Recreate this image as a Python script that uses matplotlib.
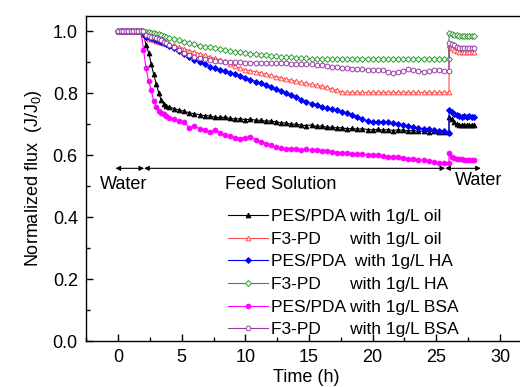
import numpy as np
import matplotlib
matplotlib.use("Agg")
import matplotlib.pyplot as plt

plt.rcParams['font.family'] = ['Liberation Sans', 'DejaVu Sans']
plt.rcParams['mathtext.fontset'] = 'custom'
plt.rcParams['mathtext.rm'] = 'Liberation Sans'
plt.rcParams['mathtext.it'] = 'Liberation Sans'

# ---- time grids (h) ----
t_water = [0.0, 0.2, 0.4, 0.6, 0.8, 1.0, 1.2, 1.4, 1.6, 1.8]
t_feed = [2.0, 2.2, 2.4, 2.6, 2.8, 3.0, 3.2, 3.4, 3.6, 3.8, 4.0,
          4.4, 4.8, 5.2, 5.6, 6.0, 6.4, 6.8, 7.2, 7.6, 8.0, 8.4, 8.8, 9.2, 9.6,
          10.0, 10.4, 10.8, 11.2, 11.6, 12.0, 12.4, 12.8, 13.2, 13.6, 14.0, 14.4,
          14.8, 15.2, 15.6, 16.0, 16.4, 16.8, 17.2, 17.6, 18.0, 18.4, 18.8, 19.2,
          19.6, 20.0, 20.4, 20.8, 21.2, 21.6, 22.0, 22.4, 22.8, 23.2, 23.6, 24.0,
          24.4, 24.8, 25.2, 25.6, 26.0]
t_rinse = [26.0, 26.2, 26.4, 26.6, 26.8, 27.0, 27.2, 27.4, 27.6, 27.8, 28.0]

water_vals = [1.0] * 10

# ---- feed phase values ----
pes_oil = [0.99, 0.955, 0.93, 0.895, 0.86, 0.83, 0.80, 0.776, 0.765, 0.758, 0.755,
           0.750, 0.745, 0.741, 0.736, 0.733, 0.730, 0.727, 0.726, 0.722, 0.721,
           0.722, 0.718, 0.716, 0.717, 0.714, 0.716, 0.712, 0.712, 0.709, 0.710,
           0.707, 0.704, 0.703, 0.699, 0.700, 0.696, 0.695, 0.697, 0.692, 0.694,
           0.689, 0.690, 0.687, 0.688, 0.684, 0.686, 0.683, 0.685, 0.682, 0.681,
           0.683, 0.680, 0.682, 0.679, 0.681, 0.680, 0.678, 0.679, 0.676, 0.677,
           0.675, 0.676, 0.674, 0.675, 0.674]
f3_oil = [0.995, 0.977, 0.975, 0.973, 0.971, 0.969, 0.966, 0.964, 0.962, 0.960, 0.958,
          0.954, 0.949, 0.943, 0.937, 0.932, 0.927, 0.922, 0.917, 0.912, 0.907,
          0.902, 0.895, 0.887, 0.880, 0.875, 0.872, 0.869, 0.865, 0.861, 0.857,
          0.853, 0.849, 0.845, 0.841, 0.838, 0.834, 0.831, 0.828, 0.825, 0.822,
          0.818, 0.813, 0.809, 0.803, 0.802, 0.802, 0.802, 0.802, 0.802, 0.802,
          0.802, 0.802, 0.802, 0.802, 0.802, 0.802, 0.802, 0.802, 0.802, 0.802,
          0.802, 0.802, 0.802, 0.802, 0.802]
pes_ha = [0.995, 0.982, 0.980, 0.977, 0.974, 0.971, 0.968, 0.964, 0.961, 0.957, 0.953,
          0.945, 0.936, 0.927, 0.916, 0.908, 0.900, 0.893, 0.885, 0.880, 0.875,
          0.870, 0.865, 0.860, 0.855, 0.849, 0.843, 0.837, 0.831, 0.825, 0.818,
          0.812, 0.806, 0.799, 0.793, 0.786, 0.779, 0.772, 0.766, 0.760, 0.755,
          0.751, 0.748, 0.744, 0.740, 0.734, 0.729, 0.723, 0.716, 0.710, 0.707,
          0.708, 0.706, 0.705, 0.702, 0.699, 0.697, 0.694, 0.690, 0.687, 0.685,
          0.683, 0.680, 0.678, 0.676, 0.672]
f3_ha = [1.0, 0.998, 0.997, 0.995, 0.993, 0.991, 0.989, 0.987, 0.984, 0.981, 0.979,
         0.975, 0.970, 0.965, 0.960, 0.957, 0.953, 0.950, 0.947, 0.944, 0.941,
         0.938, 0.935, 0.933, 0.931, 0.929, 0.927, 0.925, 0.923, 0.921, 0.919,
         0.918, 0.917, 0.916, 0.915, 0.914, 0.913, 0.912, 0.911, 0.911, 0.911,
         0.911, 0.911, 0.911, 0.911, 0.910, 0.910, 0.910, 0.910, 0.910, 0.910,
         0.910, 0.910, 0.910, 0.910, 0.910, 0.910, 0.910, 0.910, 0.910, 0.910,
         0.910, 0.910, 0.910, 0.910, 0.910]
pes_bsa = [0.94, 0.88, 0.84, 0.81, 0.775, 0.755, 0.743, 0.737, 0.731, 0.725, 0.720,
           0.715, 0.711, 0.706, 0.688, 0.693, 0.685, 0.680, 0.675, 0.681, 0.672,
           0.665, 0.660, 0.655, 0.653, 0.655, 0.659, 0.650, 0.643, 0.637, 0.631,
           0.625, 0.621, 0.619, 0.618, 0.619, 0.617, 0.618, 0.616, 0.615, 0.614,
           0.613, 0.610, 0.608, 0.607, 0.605, 0.604, 0.603, 0.602, 0.601, 0.600,
           0.599, 0.597, 0.595, 0.594, 0.592, 0.590, 0.588, 0.587, 0.585, 0.583,
           0.580, 0.577, 0.575, 0.574, 0.573]
f3_bsa = [1.0, 0.987, 0.985, 0.982, 0.980, 0.977, 0.974, 0.970, 0.966, 0.961, 0.956,
          0.948, 0.940, 0.930, 0.921, 0.916, 0.912, 0.909, 0.906, 0.904, 0.903,
          0.901, 0.900, 0.899, 0.899, 0.898, 0.898, 0.898, 0.898, 0.898, 0.898,
          0.897, 0.897, 0.896, 0.895, 0.894, 0.894, 0.893, 0.892, 0.890, 0.889,
          0.887, 0.885, 0.884, 0.882, 0.881, 0.879, 0.878, 0.876, 0.875, 0.874,
          0.874, 0.873, 0.868, 0.864, 0.869, 0.872, 0.876, 0.873, 0.871, 0.868,
          0.871, 0.874, 0.873, 0.872, 0.872]

# ---- rinse (water) phase values ----
pes_oil_r = [0.724, 0.715, 0.705, 0.700, 0.697, 0.696, 0.696, 0.696, 0.696, 0.696, 0.696]
f3_oil_r = [0.955, 0.945, 0.939, 0.935, 0.933, 0.932, 0.931, 0.931, 0.931, 0.931, 0.931]
pes_ha_r = [0.745, 0.740, 0.733, 0.730, 0.727, 0.724, 0.726, 0.723, 0.725, 0.724, 0.724]
f3_ha_r = [0.995, 0.990, 0.987, 0.986, 0.985, 0.985, 0.985, 0.985, 0.985, 0.985, 0.985]
pes_bsa_r = [0.607, 0.594, 0.590, 0.588, 0.587, 0.586, 0.585, 0.585, 0.584, 0.584, 0.584]
f3_bsa_r = [0.962, 0.958, 0.955, 0.950, 0.946, 0.944, 0.944, 0.944, 0.944, 0.944, 0.944]

labels = ["PES/PDA with 1g/L oil", "F3-PD      with 1g/L oil",
          "PES/PDA  with 1g/L HA", "F3-PD      with 1g/L HA",
          "PES/PDA with 1g/L BSA", "F3-PD      with 1g/L BSA"]
colors = ["#000000", "#FF5050", "#0000FF", "#2E9B2E", "#FF00FF", "#9B3BA8"]
markers = ["^", "^", "D", "D", "o", "o"]
filled = [True, False, True, False, True, False]
feeds = [pes_oil, f3_oil, pes_ha, f3_ha, pes_bsa, f3_bsa]
rinses = [pes_oil_r, f3_oil_r, pes_ha_r, f3_ha_r, pes_bsa_r, f3_bsa_r]

W, H = 520, 387
fig = plt.figure(figsize=(W / 100, H / 100), dpi=100)
x0, x1 = -2.5, 32.0
left_px, right_px = 86.2, 525.4
top_px, bot_px = 15.5, 341.0
ax = fig.add_axes([left_px / W, 1 - bot_px / H, (right_px - left_px) / W, (bot_px - top_px) / H])

t_all = t_water + t_feed + t_rinse
for lab, c, m, f, fv, rv in zip(labels, colors, markers, filled, feeds, rinses):
    y = water_vals + fv + rv
    ax.plot(t_all, y, color=c, lw=0.8, marker=m, ms=3.4 if m != "D" else 3.0,
            markerfacecolor=c if f else "white", markeredgecolor=c,
            markeredgewidth=0.7, label=lab)

ax.set_xlim(x0, x1)
ax.set_ylim(0, 1.05)
ax.set_xticks([0, 5, 10, 15, 20, 25, 30])
ax.set_xticks(np.arange(-2.5, 32, 2.5), minor=True)
ax.set_yticks([0.0, 0.2, 0.4, 0.6, 0.8, 1.0])
ax.set_yticks(np.arange(0.1, 1.05, 0.2), minor=True)
ax.yaxis.set_major_formatter(matplotlib.ticker.FormatStrFormatter('%.1f'))
ax.tick_params(which='both', direction='in', labelsize=13, width=1)
ax.tick_params(which='major', length=5, pad=6)
ax.tick_params(which='minor', length=3)
for s in ax.spines.values():
    s.set_linewidth(1.0)

ax.set_xlabel("Time (h)", fontsize=13, labelpad=2)
ax.set_ylabel("Normalized flux  (J/J$_0$)", fontsize=13, labelpad=6)

# phase annotations
arrow_y = 0.557
phases = [(-0.2, 2.05), (2.05, 25.7), (25.7, 28.5)]
for a, b in phases:
    ax.annotate('', xy=(b, arrow_y), xytext=(a, arrow_y),
                arrowprops=dict(arrowstyle='<|-|>', color='black', lw=0.8,
                                mutation_scale=7, shrinkA=0, shrinkB=0))
ax.text(0.45, 0.506, "Water", ha='center', va='center', fontsize=13)
ax.text(12.8, 0.506, "Feed Solution", ha='center', va='center', fontsize=13)
ax.text(28.3, 0.519, "Water", ha='center', va='center', fontsize=13)

leg = ax.legend(loc='upper left', bbox_to_anchor=(228 / W, 1 - 209 / H),
                bbox_transform=fig.transFigure, frameon=False, fontsize=12.5,
                handlelength=2.3, handletextpad=0.2, labelspacing=0.43,
                borderpad=0, borderaxespad=0, numpoints=1)

fig.savefig("out.png", dpi=100)
